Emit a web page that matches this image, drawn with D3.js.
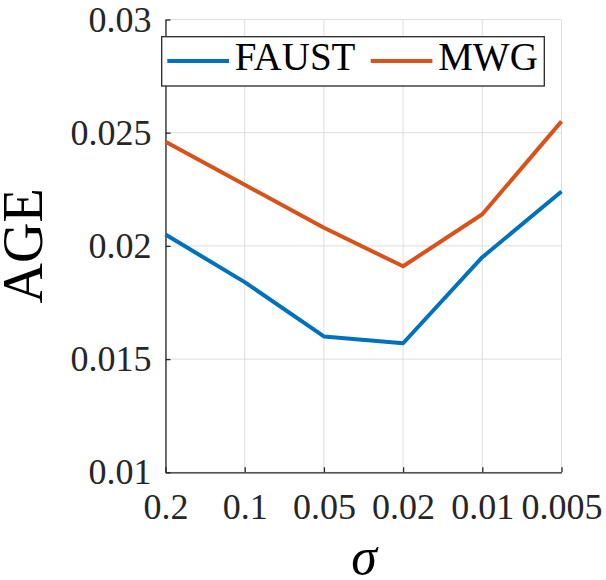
<!DOCTYPE html>
<html lang="en">
<head>
    <meta charset="UTF-8">
    <title>AGE vs sigma</title>
    <script src="https://d3js.org/d3.v7.min.js"></script>
    <style>
      body { margin: 0; background: #fff; }
      svg text { font-family: "Liberation Serif", "DejaVu Serif", serif !important; }
    </style>
</head>
<body>
<svg id="chart" width="606" height="580"></svg>
<script>
  // data
  var sigmas = ["0.2", "0.1", "0.05", "0.02", "0.01", "0.005"];
  var faust = [0.0205, 0.0184, 0.0160, 0.0157, 0.0195, 0.0224];
  var mwg = [0.0246, 0.0227, 0.0208, 0.0191, 0.0214, 0.0255];
  var yTicks = [0.01, 0.015, 0.02, 0.025, 0.03];

  var svg = d3.select("#chart");

  // plot box (window.top is reserved, so no "top" here)
  var plotL = 165.5, plotR = 561.5, plotT = 19.5, plotB = 472.3;

  var x = d3.scalePoint()
    .domain(sigmas)
    .range([plotL, plotR]);

  var y = d3.scaleLinear()
    .domain([0.01, 0.03])
    .range([plotB, plotT]);

  // grid
  svg.append("g")
    .selectAll("line")
    .data(sigmas)
    .enter()
    .append("line")
    .attr("x1", function (d) { return x(d) })
    .attr("x2", function (d) { return x(d) })
    .attr("y1", plotT)
    .attr("y2", plotB)
    .attr("stroke", "#dedede")
    .attr("stroke-width", 1);

  svg.append("g")
    .selectAll("line")
    .data(yTicks)
    .enter()
    .append("line")
    .attr("x1", plotL)
    .attr("x2", plotR)
    .attr("y1", function (d) { return y(d) })
    .attr("y2", function (d) { return y(d) })
    .attr("stroke", "#dedede")
    .attr("stroke-width", 1);

  // axes
  var xAxis = svg.append("g")
    .attr("transform", "translate(0," + plotB + ")")
    .call(d3.axisBottom(x).tickSizeInner(-5).tickSizeOuter(0).tickPadding(21));

  var yAxis = svg.append("g")
    .attr("transform", "translate(" + plotL + ",0)")
    .call(d3.axisLeft(y).tickValues(yTicks).tickFormat(function (d) { return String(+d.toFixed(3)) })
      .tickSizeInner(-5).tickSizeOuter(0).tickPadding(14));

  [xAxis, yAxis].forEach(function (g) {
    g.attr("font-family", null).attr("font-size", 36);
    g.selectAll("path, line").attr("stroke", "#262626").attr("stroke-width", 1.3);
    g.selectAll("text")
      .attr("font-family", "Liberation Serif")
      .attr("font-size", 36)
      .attr("fill", "#262626");
  });
  xAxis.selectAll("text").attr("dy", "0.71em");

  // lines
  var line = d3.line()
    .x(function (d, i) { return x(sigmas[i]) })
    .y(function (d) { return y(d) });

  svg.append("path")
    .datum(mwg)
    .attr("d", line)
    .attr("fill", "none")
    .attr("stroke", "#D95319")
    .attr("stroke-width", 4)
    .attr("stroke-linejoin", "round");

  svg.append("path")
    .datum(faust)
    .attr("d", line)
    .attr("fill", "none")
    .attr("stroke", "#0072BD")
    .attr("stroke-width", 4)
    .attr("stroke-linejoin", "round");

  // legend
  var legend = svg.append("g");
  legend.append("rect")
    .attr("x", 161.7)
    .attr("y", 36.7)
    .attr("width", 382.6)
    .attr("height", 49.3)
    .attr("fill", "#fff")
    .attr("stroke", "#262626")
    .attr("stroke-width", 1.3);

  var items = [
    {name: "FAUST", color: "#0072BD", x0: 167.3},
    {name: "MWG", color: "#D95319", x0: 370.7}
  ];
  items.forEach(function (it) {
    legend.append("line")
      .attr("x1", it.x0).attr("x2", it.x0 + 61.7)
      .attr("y1", 61).attr("y2", 61)
      .attr("stroke", it.color)
      .attr("stroke-width", 4);
    legend.append("text")
      .attr("x", it.x0 + 67.5)
      .attr("y", 70)
      .attr("font-size", 39)
      .text(it.name);
  });

  // axis titles
  svg.append("text")
    .attr("x", 364)
    .attr("y", 574)
    .attr("text-anchor", "middle")
    .attr("font-size", 52)
    .attr("font-style", "italic")
    .text("σ");

  svg.append("text")
    .attr("transform", "translate(42," + ((plotT + plotB) / 2) + ") rotate(-90)")
    .attr("text-anchor", "middle")
    .attr("font-size", 56)
    .text("AGE");
</script>
</body>
</html>
